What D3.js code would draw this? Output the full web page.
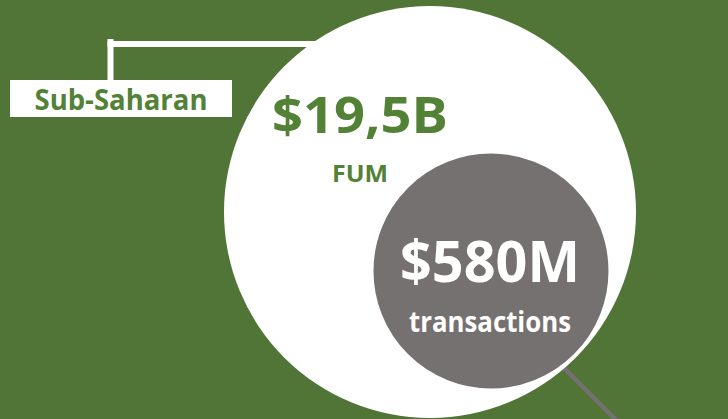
<!DOCTYPE html>
<html lang="en">
<head>
<meta charset="utf-8">
<title>Sub-Saharan FUM</title>
<script src="https://d3js.org/d3.v7.min.js"></script>
<style>
  html, body { margin: 0; padding: 0; background: #507537; }
  svg { display: block; }
</style>
</head>
<body>
<div id="chart"></div>
<script>
// data
var region = ["Sub-Saharan"];
var metrics = ["FUM", "transactions"];
var values = [19.5, 0.58];          // billions
var valueLabels = ["$19,5B", "$580M"];

var width = 728, height = 419;
var green = "#507537", textGreen = "#538135", grey = "#767171";

var svg = d3.select("#chart").append("svg")
    .attr("width", width)
    .attr("height", height);

svg.append("rect")
    .attr("width", width)
    .attr("height", height)
    .attr("fill", green);

// radius scale (picture is not area-true, so a plain linear mapping)
var r = d3.scaleLinear()
    .domain([d3.min(values), d3.max(values)])
    .range([119, 206]);

// big circle centre and small circle centre
var cx = [430, 491], cy = [212, 271];

// connector from label to the big circle
svg.append("line")
    .attr("x1", 110.5).attr("x2", 110.5)
    .attr("y1", 39).attr("y2", 82)
    .attr("stroke", "#fff").attr("stroke-width", 6);
svg.append("line")
    .attr("x1", 107.5).attr("x2", 330)
    .attr("y1", 44).attr("y2", 44)
    .attr("stroke", "#fff").attr("stroke-width", 6);

// pointer line from the small circle
svg.append("line")
    .attr("x1", 562).attr("y1", 366)
    .attr("x2", 618).attr("y2", 422)
    .attr("stroke", grey).attr("stroke-width", 4.5);

var circles = svg.selectAll("circle.metric")
  .data(values)
  .enter()
  .append("circle")
    .attr("class", "metric")
    .attr("cx", function(d, i) { return cx[i]; })
    .attr("cy", function(d, i) { return cy[i]; })
    .attr("r", function(d) { return r(d); })
    .attr("fill", function(d, i) { return i == 0 ? "#fff" : grey; })
    .attr("stroke", "#fff")
    .attr("stroke-width", function(d, i) { return i == 0 ? 0 : 3; });

// region label box
svg.append("rect")
    .attr("x", 10).attr("y", 80)
    .attr("width", 222).attr("height", 37)
    .attr("fill", "#fff");

svg.append("text")
    .attr("x", 121).attr("y", 110)
    .attr("text-anchor", "middle")
    .attr("font-family", "Open Sans")
    .attr("font-weight", "bold")
    .attr("font-size", 29)
    .attr("textLength", 173)
    .attr("lengthAdjust", "spacingAndGlyphs")
    .attr("fill", textGreen)
    .text(region[0]);

// value labels
var bigX = [360, 490], bigY = [133, 282], bigSize = [51, 57], bigLen = [176, 180];
var subY = [182, 332], subSize = [24, 28], subLen = [56, 162];
var fills = [textGreen, "#fff"];

svg.selectAll("text.value")
  .data(valueLabels)
  .enter()
  .append("text")
    .attr("class", "value")
    .attr("x", function(d, i) { return bigX[i]; })
    .attr("y", function(d, i) { return bigY[i]; })
    .attr("text-anchor", "middle")
    .attr("font-family", "Open Sans")
    .attr("font-weight", "bold")
    .attr("font-size", function(d, i) { return bigSize[i]; })
    .attr("textLength", function(d, i) { return bigLen[i]; })
    .attr("lengthAdjust", "spacingAndGlyphs")
    .attr("fill", function(d, i) { return fills[i]; })
    .text(function(d) { return d; });

svg.selectAll("text.metric")
  .data(metrics)
  .enter()
  .append("text")
    .attr("class", "metric")
    .attr("x", function(d, i) { return bigX[i]; })
    .attr("y", function(d, i) { return subY[i]; })
    .attr("text-anchor", "middle")
    .attr("font-family", "Open Sans")
    .attr("font-weight", "bold")
    .attr("font-size", function(d, i) { return subSize[i]; })
    .attr("textLength", function(d, i) { return subLen[i]; })
    .attr("lengthAdjust", "spacingAndGlyphs")
    .attr("fill", function(d, i) { return fills[i]; })
    .text(function(d) { return d; });
</script>
</body>
</html>
